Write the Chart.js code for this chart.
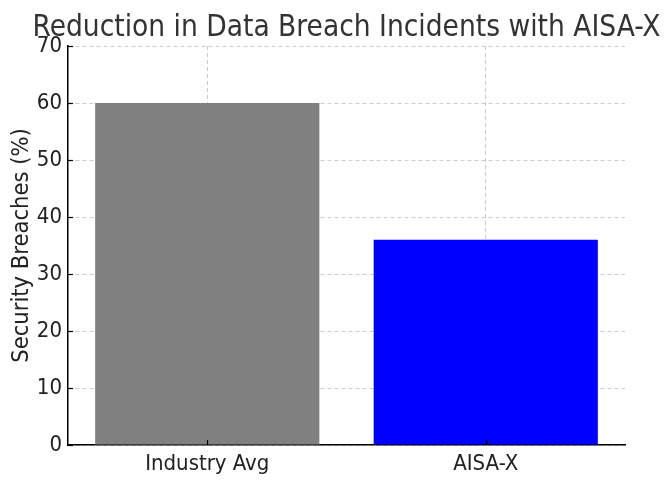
<!DOCTYPE html>
<html>
<head>
<meta charset="utf-8">
<script src="https://cdn.jsdelivr.net/npm/chart.js@4.4.0/dist/chart.umd.min.js"></script>
<style>
  html, body { margin: 0; padding: 0; background: #fff; }
  #wrap { width: 672px; height: 486px; }
</style>
</head>
<body>
<div id="wrap"><canvas id="grafico"></canvas></div>
<script>
const categorias = ['Industry Avg', 'AISA-X'];
const valores = [60, 36];
const cores = ['#808080', '#0000ff'];
const ticksY = [0, 10, 20, 30, 40, 50, 60, 70];

const fonte = '"DejaVu Sans Condensed", "DejaVu Sans", sans-serif';

// marcas de escala para dentro, como no matplotlib
const marcasInternas = {
    id: 'marcasInternas',
    afterLayout(chart) {
        // centra o título sobre a área do gráfico
        const t = chart.titleBlock;
        if (t) {
            const cx = (chart.chartArea.left + chart.chartArea.right) / 2;
            t.left = cx - 314;
            t.right = cx + 314;
            t.width = 628;
        }
    },
    afterDraw(chart) {
        const ctx = chart.ctx;
        const a = chart.chartArea;
        ctx.save();
        ctx.strokeStyle = '#000';
        ctx.lineWidth = 1.2;
        chart.scales.y.ticks.forEach((t, i) => {
            const y = Math.round(chart.scales.y.getPixelForTick(i)) + 0.5;
            ctx.beginPath();
            ctx.moveTo(a.left, y);
            ctx.lineTo(a.left + 5, y);
            ctx.stroke();
        });
        chart.scales.x.ticks.forEach((t, i) => {
            const x = Math.round(chart.scales.x.getPixelForTick(i)) + 0.5;
            ctx.beginPath();
            ctx.moveTo(x, a.bottom);
            ctx.lineTo(x, a.bottom - 5);
            ctx.stroke();
        });
        ctx.restore();
    }
};

new Chart(document.getElementById('grafico'), {
    type: 'bar',
    data: {
        labels: categorias,
        datasets: [{
            label: 'Security Breaches (%)',
            data: valores,
            backgroundColor: cores,
            borderWidth: 0,
            barPercentage: 0.805,
            categoryPercentage: 1
        }]
    },
    options: {
        responsive: true,
        maintainAspectRatio: false,
        animation: false,
        layout: { padding: { left: 0, right: 47, top: 0, bottom: 0 } },
        plugins: {
            legend: { display: false },
            tooltip: { enabled: false },
            title: {
                display: true,
                text: 'Reduction in Data Breach Incidents with AISA-X',
                color: '#333',
                font: { family: fonte, size: 30, weight: 'normal', lineHeight: 1.1 },
                padding: { top: 12, bottom: 1 }
            }
        },
        scales: {
            x: {
                z: 1,
                offset: true,
                afterFit(s) { s.height = 41; },
                grid: {
                    offset: false,
                    color: '#cccccc',
                    lineWidth: 1,
                    drawTicks: false
                },
                border: { display: true, color: '#000', width: 1.5, dash: [4, 3] },
                ticks: {
                    color: '#222',
                    padding: 6,
                    font: { family: fonte, size: 22 }
                }
            },
            y: {
                z: 1,
                min: 0,
                max: 70,
                afterFit(s) { s.width = 68; },
                afterBuildTicks(s) { s.ticks = ticksY.map(v => ({ value: v })); },
                grid: {
                    color: '#cccccc',
                    lineWidth: 1,
                    drawTicks: false
                },
                border: { display: true, color: '#000', width: 1.5, dash: [4, 3] },
                ticks: {
                    color: '#222',
                    padding: 6,
                    font: { family: fonte, size: 22 }
                },
                title: {
                    display: true,
                    text: 'Security Breaches (%)',
                    color: '#222',
                    font: { family: fonte, size: 23.5 },
                    padding: { top: 8, bottom: 2 }
                }
            }
        }
    },
    plugins: [marcasInternas]
});
</script>
</body>
</html>
